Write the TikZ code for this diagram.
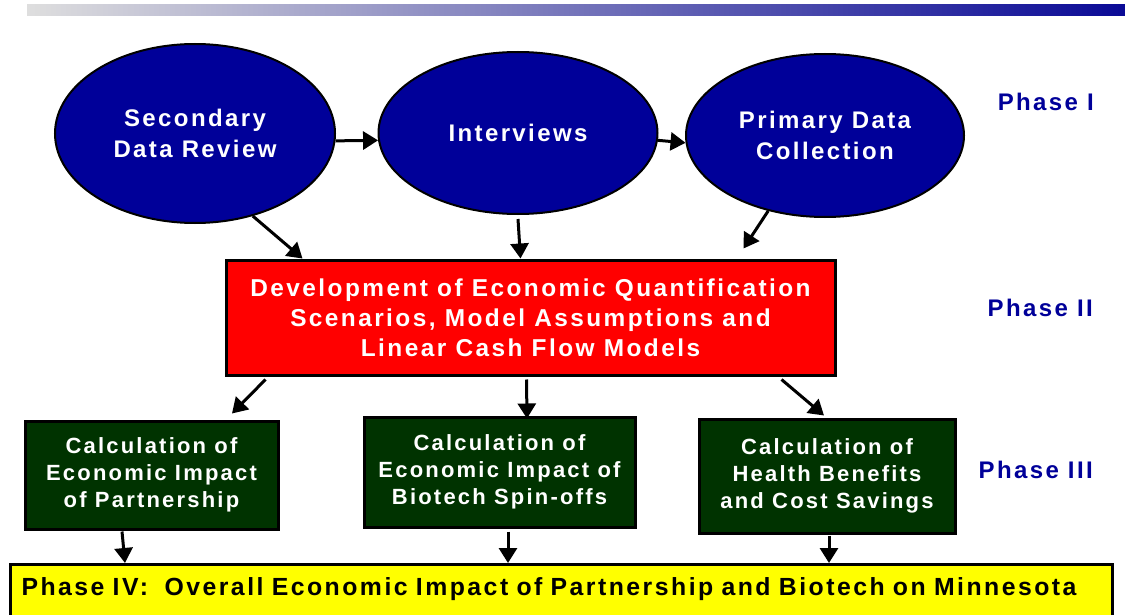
\documentclass[tikz,border=0pt]{standalone}
\usepackage{fontspec}
\setmainfont{Liberation Sans}[LetterSpace=10]
\usetikzlibrary{shapes.geometric,arrows.meta}

\definecolor{navy}{RGB}{0,0,153}
\definecolor{devred}{RGB}{255,0,0}
\definecolor{calcgreen}{RGB}{0,51,0}
\definecolor{sumyellow}{RGB}{255,255,0}
\definecolor{barleft}{RGB}{222,222,222}
\definecolor{barmid}{RGB}{182,182,206}
\definecolor{barright}{RGB}{10,10,150}

\tikzset{
  bigtext/.style={font=\fontsize{24}{31}\selectfont\bfseries},
  phaselabel/.style={bigtext,text=navy,anchor=east,inner sep=0pt},
}

\begin{document}
\begin{tikzpicture}[x=1pt,y=-1pt]
      \useasboundingbox (0,0) rectangle (1125,615);
      \shade[left color=barleft,middle color=barmid,right color=barright] (27,5) rectangle (1125,16);
      % phase I: data gathering
      \begin{scope}[every node/.style={ellipse,draw,line width=2pt,fill=navy,text=white,bigtext,align=center,inner sep=0pt}]
        \node[minimum width=280,minimum height=179] (sdr) at (195,133.5) {Secondary\\Data Review};
        \node[minimum width=279,minimum height=162] (intv) at (518,133) {Interviews};
        \node[minimum width=278,minimum height=163] (pdc) at (825,135.5) {Primary Data\\Collection};
      \end{scope}
      % phase II
      \node[draw,line width=3pt,fill=devred,text=white,align=center,minimum width=609,minimum height=115,
            font=\fontsize{24.4}{30}\selectfont\bfseries] (dev) at (530.5,317.5)
            {Development of Economic Quantification\\Scenarios, Model Assumptions and\\Linear Cash Flow Models};
      % phase III
      \begin{scope}[every node/.style={draw,line width=3pt,fill=calcgreen,text=white,align=center,
                    font=\fontsize{22}{27}\selectfont\bfseries}]
        \node[minimum width=253,minimum height=108] (calcA) at (151.5,475) {Calculation of\\Economic Impact\\of Partnership};
        \node[minimum width=271,minimum height=110] (calcB) at (499.5,472) {Calculation of\\Economic Impact of\\Biotech Spin-offs};
        \node[minimum width=256,minimum height=114] (calcC) at (827,476) {Calculation of\\Health Benefits\\and Cost Savings};
      \end{scope}
      % phase IV
      \node[draw,line width=3pt,fill=sumyellow,anchor=north west,font=\fontsize{24.8}{31}\selectfont\bfseries,
            align=left,text width=1080,inner xsep=11,inner ysep=13,text depth=60pt] (overall) at (9,563)
            {Phase IV:~~Overall Economic Impact of Partnership and Biotech on Minnesota};
      \node[phaselabel] (ph1) at (1094,102) {Phase I};
      \node[phaselabel] (ph2) at (1093,308) {Phase II};
      \node[phaselabel] (ph3) at (1093,470) {Phase III};
      \begin{scope}[every edge/.style={draw,line width=3pt,-{Triangle[length=15pt,width=18pt]}}]
        \path (sdr.-3) edge (intv.183);
        \path (intv.-3) edge (pdc.183);
        \path (sdr.305) edge ([xshift=78pt]dev.north west);
        \path ([yshift=-4pt]intv.south) edge ([xshift=-10pt]dev.north);
        \path (pdc.233) edge ([xshift=-93pt,yshift=10pt]dev.north east);
        \path ([xshift=41pt,yshift=-3pt]dev.south west) edge ([xshift=80.5pt,yshift=6pt]calcA.north);
        \path ([xshift=-4pt,yshift=-3pt]dev.south) edge ([xshift=27.5pt,yshift=-3pt]calcB.north);
        \path ([xshift=-55pt,yshift=-3pt]dev.south east) edge ([xshift=-3pt,yshift=2pt]calcC.north);
        \path ([xshift=-29.5pt,yshift=-1pt]calcA.south) edge ([xshift=116pt]overall.north west);
        \path ([xshift=8.5pt,yshift=-3pt]calcB.south) edge ([xshift=499pt]overall.north west);
        \path ([xshift=2pt,yshift=-1pt]calcC.south) edge ([xshift=820pt]overall.north west);
      \end{scope}
\end{tikzpicture}
\end{document}
